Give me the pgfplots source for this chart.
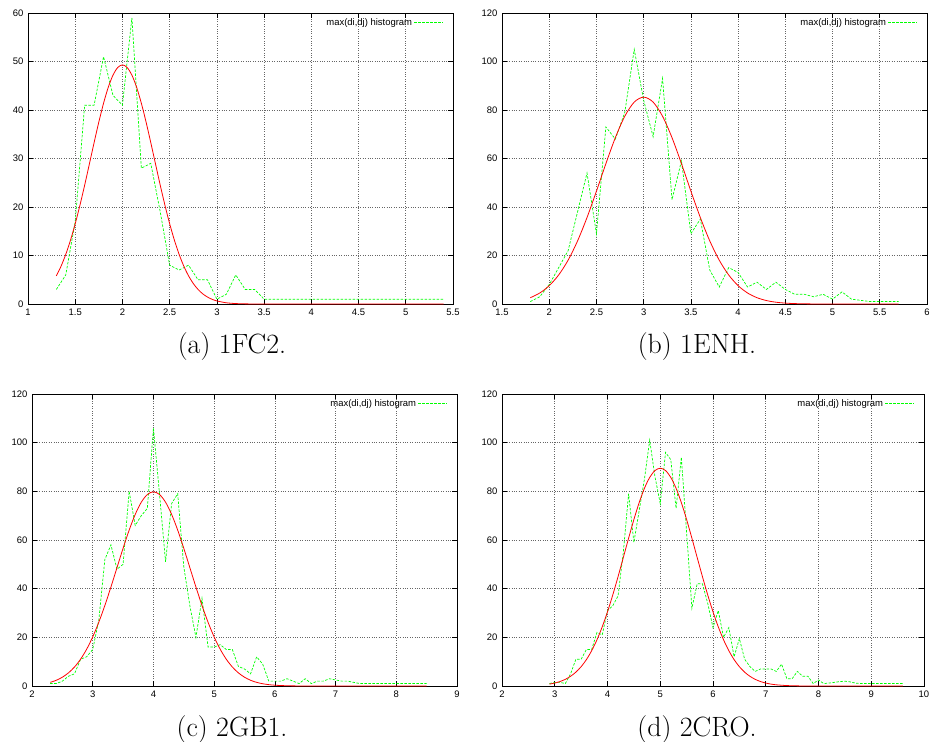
\documentclass[border=0pt]{standalone}
\usepackage{fontspec}
\usepackage{pgfplots}
\pgfplotsset{compat=1.18}
\newfontfamily\gnu{Liberation Sans}
\definecolor{gnugreen}{RGB}{0,255,0}
\definecolor{gnured}{RGB}{255,0,0}
\pgfplotsset{gp/.style={
  scale only axis, width=425bp, height=291bp,
  axis line style={line width=0.9pt},
  tick align=inside, xtick pos=both, ytick pos=both,
  major tick length=5bp,
  tick style={black, line width=0.6pt},
  grid=major, major grid style={dotted, black!60, line width=0.6pt},
  tick label style={font=\gnu\fontsize{9.5}{11}\selectfont},
  /pgf/number format/assume math mode=true,
  xticklabel style={yshift=-1.5bp},
  yticklabel style={xshift=-1bp},
  legend style={draw=none, fill=none, font=\gnu\fontsize{9.5}{11}\selectfont,
    at={(1,1)}, anchor=north east, xshift=-9bp, yshift=-3bp, inner sep=0pt},
  legend plot pos=right,
  legend image code/.code={\draw[##1] (0bp,0bp) -- (29bp,0bp);},
  green/.style={color=gnugreen, line width=0.7pt, dash pattern=on 2.5bp off 1.5bp},
  red/.style={color=gnured, line width=0.8pt, smooth},
}}
\begin{document}
\begin{tikzpicture}
\useasboundingbox (0bp,0bp) rectangle (930bp,-742bp);
% (a)
\begin{axis}[gp, at={(28bp,-304bp)}, anchor=south west,
  xmin=1, xmax=5.5, ymin=0, ymax=60,
  xtick={1,1.5,...,5.5}, ytick={0,10,...,60}]
\addplot[green] coordinates {(1.3,3)(1.4,6)(1.5,17)(1.6,41)(1.7,41)(1.8,51)(1.9,43)(2.0,41)(2.1,59)(2.2,28)(2.3,29)(2.4,19)(2.5,8)(2.6,7)(2.7,8)(2.8,5)(2.9,5)(3.0,1)(3.1,2)(3.2,6)(3.3,3)(3.4,3)(3.5,1)(3.6,1)(3.7,1)(3.8,1)(3.9,1)(4.0,1)(4.1,1)(4.2,1)(4.3,1)(4.4,1)(4.5,1)(4.6,1)(4.7,1)(4.8,1)(4.9,1)(5.0,1)(5.1,1)(5.2,1)(5.3,1)(5.4,1)};
\addlegendentry{max(di,dj) histogram}
\addplot[red, forget plot] coordinates {(1.30,5.80)(1.35,7.79)(1.40,10.24)(1.45,13.16)(1.50,16.55)(1.55,20.36)(1.60,24.51)(1.65,28.88)(1.70,33.28)(1.75,37.53)(1.80,41.40)(1.85,44.69)(1.90,47.20)(1.95,48.76)(2.00,49.30)(2.05,48.76)(2.10,47.20)(2.15,44.69)(2.20,41.40)(2.25,37.53)(2.30,33.28)(2.35,28.88)(2.40,24.51)(2.45,20.36)(2.50,16.55)(2.55,13.16)(2.60,10.24)(2.65,7.79)(2.70,5.80)(2.75,4.23)(2.80,3.01)(2.85,2.10)(2.90,1.44)(2.95,0.96)(3.00,0.63)(3.10,0.25)(3.20,0.09)(3.30,0.03)(3.50,0)(4.0,0)(4.5,0)(5.0,0)(5.4,0)};
\end{axis}
% (b)
\begin{axis}[gp, at={(502bp,-304bp)}, anchor=south west,
  xmin=1.5, xmax=6, ymin=0, ymax=120,
  xtick={1.5,2,...,6}, ytick={0,20,...,120}]
\addplot[green] coordinates {(1.8,1)(1.9,3)(2.0,8)(2.1,15)(2.2,22)(2.3,38)(2.4,54)(2.5,29)(2.6,73)(2.7,68)(2.8,79)(2.9,105)(3.0,84)(3.1,69)(3.2,93)(3.3,43)(3.4,59)(3.5,29)(3.6,35)(3.7,14)(3.8,7)(3.9,15)(4.0,13)(4.1,7)(4.2,9)(4.3,6)(4.4,9)(4.5,6)(4.6,4)(4.7,4)(4.8,3)(4.9,4)(5.0,2)(5.1,5)(5.2,2)(5.3,1.5)(5.4,1)(5.5,1)(5.6,1)(5.7,1)};
\addlegendentry{max(di,dj) histogram}
\addplot[red, forget plot] coordinates {(1.8,2.60)(1.9,4.54)(2.0,7.56)(2.1,11.98)(2.2,18.08)(2.3,26.01)(2.4,35.65)(2.5,46.54)(2.6,57.88)(2.7,68.59)(2.8,77.42)(2.9,83.26)(3.0,85.3)(3.1,83.26)(3.2,77.42)(3.3,68.59)(3.4,57.88)(3.5,46.54)(3.6,35.65)(3.7,26.01)(3.8,18.08)(3.9,11.98)(4.0,7.56)(4.1,4.54)(4.2,2.60)(4.3,1.42)(4.4,0.74)(4.5,0.37)(4.6,0.17)(4.7,0.08)(4.8,0.03)(5.0,0)(5.3,0)(5.7,0)};
\end{axis}
% (c)
\begin{axis}[gp, at={(32bp,-686bp)}, anchor=south west, height=292bp,
  xmin=2, xmax=9, ymin=0, ymax=120,
  xtick={2,...,9}, ytick={0,20,...,120}]
\addplot[green] coordinates {(2.3,1)(2.4,1)(2.5,2)(2.6,4)(2.7,5)(2.8,11)(2.9,12)(3.0,15)(3.1,27)(3.2,52)(3.3,58)(3.4,48)(3.5,50)(3.6,80)(3.7,66)(3.8,70)(3.9,73)(4.0,106)(4.1,79)(4.2,51)(4.3,75)(4.4,79)(4.5,49)(4.6,33)(4.7,20)(4.8,36)(4.9,16)(5.0,16)(5.1,17)(5.2,15)(5.3,15)(5.4,8)(5.5,7)(5.6,5)(5.7,12)(5.8,9)(5.9,2)(6.0,2)(6.1,2)(6.2,3)(6.3,2)(6.4,1)(6.5,3)(6.6,1)(6.7,2)(6.8,2)(6.9,3)(7.0,2.5)(7.1,2)(7.2,2)(7.3,1.5)(7.4,1)(7.6,1)(7.8,1)(8.0,1)(8.2,1)(8.4,1)(8.5,1)};
\addlegendentry{max(di,dj) histogram}
\addplot[red, forget plot] coordinates {(2.3,1.50)(2.4,2.36)(2.5,3.62)(2.6,5.39)(2.7,7.81)(2.8,11.01)(2.9,15.11)(3.0,20.17)(3.1,26.20)(3.2,33.10)(3.3,40.68)(3.4,48.65)(3.5,56.59)(3.6,64.04)(3.7,70.51)(3.8,75.53)(3.9,78.71)(4.0,79.8)(4.1,78.71)(4.2,75.53)(4.3,70.51)(4.4,64.04)(4.5,56.59)(4.6,48.65)(4.7,40.68)(4.8,33.10)(4.9,26.20)(5.0,20.17)(5.1,15.11)(5.2,11.01)(5.3,7.81)(5.4,5.39)(5.5,3.62)(5.6,2.36)(5.7,1.50)(5.8,0.93)(5.9,0.56)(6.0,0.33)(6.2,0.10)(6.4,0.03)(6.6,0)(7.0,0)(8.0,0)(8.5,0)};
\end{axis}
% (d)
\begin{axis}[gp, at={(502bp,-686bp)}, anchor=south west, width=422bp, height=292bp,
  xmin=2, xmax=10, ymin=0, ymax=120,
  xtick={2,...,10}, ytick={0,20,...,120}]
\addplot[green] coordinates {(2.9,1)(3.0,1.5)(3.1,1.5)(3.2,1)(3.3,5)(3.4,11)(3.5,11)(3.6,15)(3.7,15)(3.8,22)(3.9,21)(4.0,31)(4.1,33)(4.2,37)(4.3,55)(4.4,79)(4.5,59)(4.6,72)(4.7,85)(4.8,101)(4.9,86)(5.0,75)(5.1,96)(5.2,93)(5.3,73)(5.4,94)(5.5,63)(5.6,32)(5.7,42)(5.8,42)(5.9,34)(6.0,24)(6.1,31)(6.2,20)(6.3,24)(6.4,12)(6.5,19.5)(6.6,11)(6.7,8)(6.8,6)(6.9,7)(7.0,7)(7.1,7)(7.2,6)(7.3,9)(7.4,3)(7.5,3)(7.6,6)(7.7,4)(7.8,4)(7.9,1)(8.0,2.5)(8.1,1)(8.2,1.2)(8.3,1.5)(8.4,1.8)(8.5,2)(8.6,1.7)(8.7,1.2)(8.8,1)(9.0,1)(9.2,1)(9.4,1)(9.6,1)};
\addlegendentry{max(di,dj) histogram}
\addplot[red, forget plot] coordinates {(2.9,0.78)(3.0,1.21)(3.1,1.84)(3.2,2.74)(3.3,3.99)(3.4,5.69)(3.5,7.94)(3.6,10.85)(3.7,14.52)(3.8,18.99)(3.9,24.33)(4.0,30.50)(4.1,37.43)(4.2,44.94)(4.3,52.81)(4.4,60.74)(4.5,68.39)(4.6,75.34)(4.7,81.24)(4.8,85.73)(4.9,88.54)(5.0,89.5)(5.1,88.54)(5.2,85.73)(5.3,81.24)(5.4,75.34)(5.5,68.39)(5.6,60.74)(5.7,52.81)(5.8,44.94)(5.9,37.43)(6.0,30.50)(6.1,24.33)(6.2,18.99)(6.3,14.52)(6.4,10.85)(6.5,7.94)(6.6,5.69)(6.7,3.99)(6.8,2.74)(6.9,1.84)(7.0,1.21)(7.1,0.78)(7.2,0.49)(7.4,0.18)(7.6,0.06)(7.8,0)(8.5,0)(9.6,0)};
\end{axis}
\node[font=\fontsize{28}{33}\selectfont] at (232bp,-347bp) {(a) 1FC2.};
\node[font=\fontsize{28}{33}\selectfont] at (697bp,-347bp) {(b) 1ENH.};
\node[font=\fontsize{28}{33}\selectfont] at (232bp,-730bp) {(c) 2GB1.};
\node[font=\fontsize{28}{33}\selectfont] at (697bp,-730bp) {(d) 2CRO.};
\end{tikzpicture}
\end{document}
